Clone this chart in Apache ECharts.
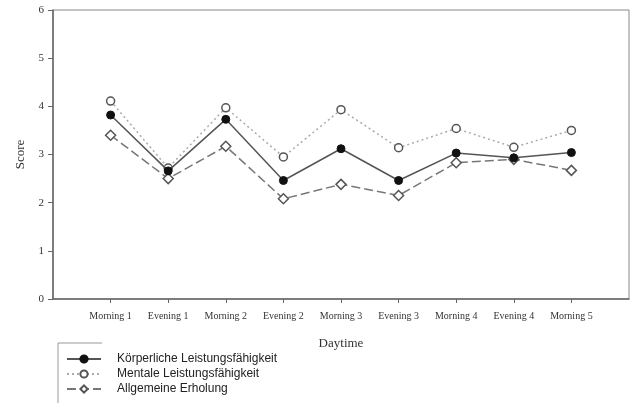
<!DOCTYPE html>
<html>
<head>
<meta charset="utf-8">
<script src="https://cdn.jsdelivr.net/npm/echarts@6/dist/echarts.min.js"></script>
<style>
  html, body { margin: 0; padding: 0; background: #fff; }
  #chart { width: 632px; height: 403px; }
</style>
</head>
<body>
<div id="chart"></div>
<script>
const categories = ["Morning 1", "Evening 1", "Morning 2", "Evening 2", "Morning 3", "Evening 3", "Morning 4", "Evening 4", "Morning 5"];
const koerperlich = [3.82, 2.66, 3.73, 2.46, 3.12, 2.46, 3.03, 2.93, 3.04];
const mental = [4.11, 2.72, 3.97, 2.95, 3.93, 3.14, 3.54, 3.15, 3.50];
const erholung = [3.40, 2.50, 3.17, 2.08, 2.38, 2.15, 2.83, 2.90, 2.67];
const yTicks = [0, 1, 2, 3, 4, 5, 6];

// pad with empty slots so the points sit one step in from the frame
const axisCats = ["", ...categories, ""];
const pad = arr => [null, ...arr, null];
const inner = i => i > 0 && i < axisCats.length - 1;

const serif = "Liberation Serif";
const chart = echarts.init(document.getElementById("chart"));
chart.setOption({
  animation: false,
  grid: { left: 53, right: 1, top: 10, bottom: 104, show: true, borderColor: "#888", borderWidth: 1 },
  legend: {
    orient: "vertical", left: 66, top: 352, height: 51, itemWidth: 34, itemHeight: 9, itemGap: 1, padding: 0,
    textStyle: { fontFamily: "Liberation Sans", fontSize: 12, lineHeight: 14, color: "#222", padding: [0, 0, 0, 11] },
    data: ["Körperliche Leistungsfähigkeit", "Mentale Leistungsfähigkeit", "Allgemeine Erholung"],
  },
  graphic: [{
    type: "polyline", silent: true,
    shape: { points: [[58, 403], [58, 343], [102, 343]] },
    style: { stroke: "#999", lineWidth: 1, fill: null },
  }],
  xAxis: {
    type: "category", data: axisCats, boundaryGap: false,
    name: "Daytime", nameLocation: "middle", nameGap: 38,
    nameTextStyle: { fontFamily: serif, fontSize: 13, color: "#333" },
    axisLine: { lineStyle: { color: "#666", width: 1.5 } },
    axisTick: { interval: inner, length: 4, lineStyle: { color: "#666" } },
    axisLabel: { interval: 0, margin: 12, fontFamily: serif, fontSize: 10, color: "#333" },
    splitLine: { show: false },
  },
  yAxis: {
    type: "value", min: 0, max: 6, interval: 1,
    name: "Score", nameLocation: "middle", nameGap: 26,
    nameTextStyle: { fontFamily: serif, fontSize: 13, color: "#333" },
    axisLine: { show: true, lineStyle: { color: "#666", width: 1.5 } },
    axisTick: { show: true, length: 5, lineStyle: { color: "#666" } },
    axisLabel: { margin: 9, fontFamily: serif, fontSize: 11, color: "#333", formatter: v => yTicks.includes(v) ? String(v) : "" },
    splitLine: { show: false },
  },
  series: [
    {
      name: "Körperliche Leistungsfähigkeit", type: "line", data: pad(koerperlich),
      symbol: "circle", symbolSize: 8,
      lineStyle: { color: "#555", width: 1.5 },
      itemStyle: { color: "#111", borderColor: "#111", borderWidth: 1 },
      z: 3,
    },
    {
      name: "Mentale Leistungsfähigkeit", type: "line", data: pad(mental),
      symbol: "circle", symbolSize: 8,
      lineStyle: { color: "#aaa", width: 1.5, type: [2, 3] },
      itemStyle: { color: "#fff", borderColor: "#555", borderWidth: 1.5 },
      z: 2,
    },
    {
      name: "Allgemeine Erholung", type: "line", data: pad(erholung),
      symbol: "diamond", symbolSize: 10,
      lineStyle: { color: "#777", width: 1.5, type: [9, 4] },
      itemStyle: { color: "#fff", borderColor: "#555", borderWidth: 1.5 },
      z: 2,
    },
  ],
});
</script>
</body>
</html>
